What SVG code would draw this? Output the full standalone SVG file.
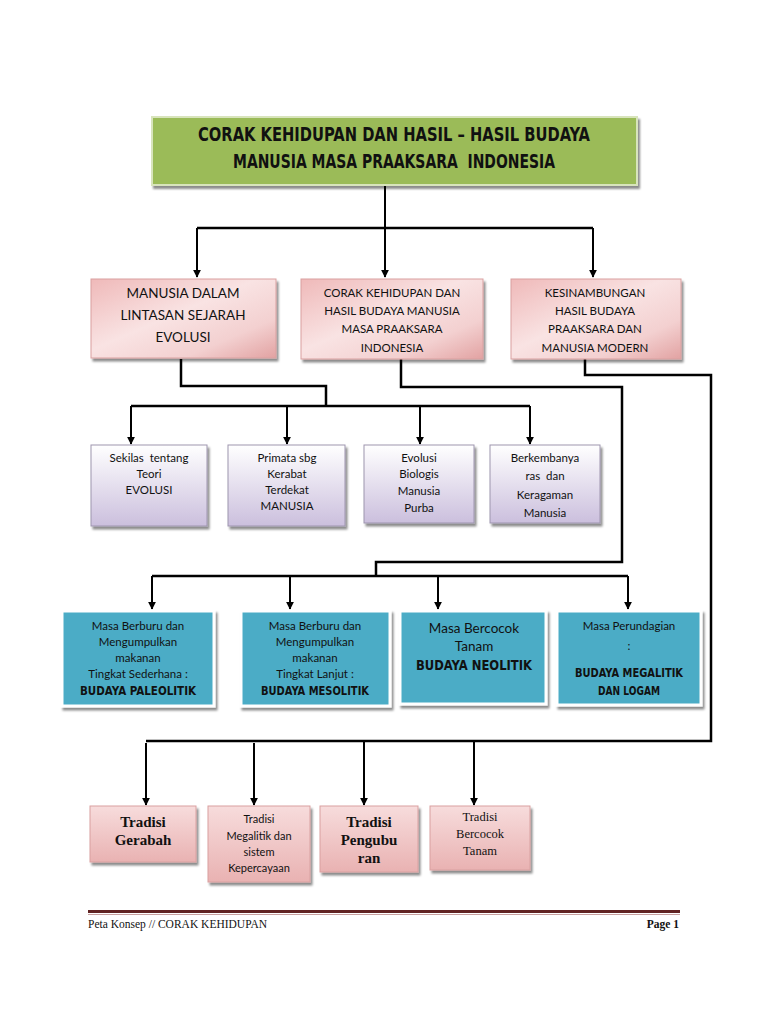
<svg xmlns="http://www.w3.org/2000/svg" width="768" height="1024" viewBox="0 0 768 1024">
<defs>
  <linearGradient id="pink" x1="0" y1="0" x2="1" y2="1">
    <stop offset="0" stop-color="#EFB9B9"/>
    <stop offset="0.45" stop-color="#F9E3E3"/>
    <stop offset="0.75" stop-color="#F3D0D0"/>
    <stop offset="1" stop-color="#E2A2A2"/>
  </linearGradient>
  <linearGradient id="pinkV" x1="0" y1="0" x2="0" y2="1">
    <stop offset="0" stop-color="#F7DCDC"/>
    <stop offset="1" stop-color="#E9B2B2"/>
  </linearGradient>
  <linearGradient id="purple" x1="0" y1="0" x2="0" y2="1">
    <stop offset="0" stop-color="#FFFFFF"/>
    <stop offset="1" stop-color="#CBBFDD"/>
  </linearGradient>
  <filter id="sh" x="-10%" y="-10%" width="130%" height="140%">
    <feDropShadow dx="2" dy="3" stdDeviation="1.2" flood-color="#000" flood-opacity="0.45"/>
  </filter>
  <marker id="arr" viewBox="0 0 10 10" refX="9" refY="5" markerWidth="8" markerHeight="8" markerUnits="userSpaceOnUse" orient="auto">
    <path d="M0,0 L10,5 L0,10 z" fill="#000"/>
  </marker>
  <style>
    text{white-space:pre}
    .title{font-family:"Liberation Sans Narrow","DejaVu Sans Condensed",sans-serif;font-weight:bold;font-size:19px;fill:#111;text-anchor:middle}
    .cond{font-family:"Liberation Sans Narrow","DejaVu Sans Condensed",sans-serif;font-weight:bold;fill:#111;text-anchor:middle}
    .sans{font-family:Lato,"Open Sans",sans-serif;fill:#111;text-anchor:middle}
    .serif{font-family:"Liberation Serif","DejaVu Serif",serif;fill:#111;text-anchor:middle}
    .pinkbox{fill:url(#pink);stroke:#D9A0A0;stroke-width:1;filter:url(#sh)}
    .pinkbox2{fill:url(#pinkV);stroke:#D9A0A0;stroke-width:1;filter:url(#sh)}
    .purbox{fill:url(#purple);stroke:#9E95AE;stroke-width:1;filter:url(#sh)}
    .teal{fill:#4BACC6;stroke:#FFFFFF;stroke-width:3;filter:url(#sh)}
    .conn{fill:none;stroke:#000;stroke-width:2.5}
    .drop{fill:none;stroke:#000;stroke-width:2;marker-end:url(#arr)}
  </style>
</defs>
<rect width="768" height="1024" fill="#FFFFFF"/>

<g id="connectors">
  <path class="drop" d="M385,186 V277"/>
  <path class="conn" d="M197,228 H593"/>
  <path class="drop" d="M197,228 V277"/>
  <path class="drop" d="M593,228 V277"/>

  <path class="conn" d="M181,359 V386 H326 V406"/>
  <path class="conn" d="M131,406 H530"/>
  <path class="drop" d="M131,406 V444"/>
  <path class="drop" d="M287,406 V444"/>
  <path class="drop" d="M420,406 V444"/>
  <path class="drop" d="M530,406 V444"/>

  <path class="conn" d="M401,359 V387 H622 V562 H376 V576"/>
  <path class="conn" d="M152,576 H628"/>
  <path class="drop" d="M152,576 V609"/>
  <path class="drop" d="M290,576 V609"/>
  <path class="drop" d="M438,576 V609"/>
  <path class="drop" d="M628,576 V609"/>

  <path class="conn" d="M585,359 V375 H711 V741 H146"/>
  <path class="drop" d="M146,743 V805"/>
  <path class="drop" d="M254,743 V805"/>
  <path class="drop" d="M364,742 V805"/>
  <path class="drop" d="M474,742 V805"/>
</g>

<g id="title">
  <rect x="152" y="117" width="485" height="68" fill="#9BBB59" stroke="#D8E4BC" stroke-width="2" filter="url(#sh)"/>
  <text class="title" x="394" y="141" textLength="392" lengthAdjust="spacingAndGlyphs">CORAK KEHIDUPAN DAN HASIL – HASIL BUDAYA</text>
  <text class="title" x="394" y="168" textLength="322" lengthAdjust="spacingAndGlyphs">MANUSIA MASA PRAAKSARA  INDONESIA</text>
</g>

<g id="n-manusia-dalam">
  <rect class="pinkbox" x="91" y="279" width="185" height="79"/>
  <text class="sans" x="183" y="298" font-size="13.5">MANUSIA DALAM</text>
  <text class="sans" x="183" y="320" font-size="13.5">LINTASAN SEJARAH</text>
  <text class="sans" x="183" y="342" font-size="13.5">EVOLUSI</text>
</g>
<g id="n-corak">
  <rect class="pinkbox" x="301" y="279" width="182" height="80"/>
  <text class="sans" x="392" y="297" font-size="11.5">CORAK KEHIDUPAN DAN</text>
  <text class="sans" x="392" y="315" font-size="11.5">HASIL BUDAYA MANUSIA</text>
  <text class="sans" x="392" y="333" font-size="11.5">MASA PRAAKSARA</text>
  <text class="sans" x="392" y="352" font-size="11.5">INDONESIA</text>
</g>
<g id="n-kesinambungan">
  <rect class="pinkbox" x="511" y="279" width="170" height="80"/>
  <text class="sans" x="595" y="297" font-size="11.5">KESINAMBUNGAN</text>
  <text class="sans" x="595" y="315" font-size="11.5">HASIL BUDAYA</text>
  <text class="sans" x="595" y="333" font-size="11.5">PRAAKSARA DAN</text>
  <text class="sans" x="595" y="352" font-size="11.5">MANUSIA MODERN</text>
</g>

<g id="n-sekilas">
  <rect class="purbox" x="91" y="445" width="116" height="81"/>
  <text class="sans" x="149" y="462" font-size="11.5">Sekilas  tentang</text>
  <text class="sans" x="149" y="478" font-size="11.5">Teori</text>
  <text class="sans" x="149" y="494" font-size="11.5">EVOLUSI</text>
</g>
<g id="n-primata">
  <rect class="purbox" x="228" y="445" width="117" height="81"/>
  <text class="sans" x="287" y="462" font-size="11.5">Primata sbg</text>
  <text class="sans" x="287" y="478" font-size="11.5">Kerabat</text>
  <text class="sans" x="287" y="494" font-size="11.5">Terdekat</text>
  <text class="sans" x="287" y="510" font-size="11.5">MANUSIA</text>
</g>
<g id="n-evolusi">
  <rect class="purbox" x="364" y="445" width="110" height="78"/>
  <text class="sans" x="419" y="462" font-size="11.5">Evolusi</text>
  <text class="sans" x="419" y="478" font-size="11.5">Biologis</text>
  <text class="sans" x="419" y="495" font-size="11.5">Manusia</text>
  <text class="sans" x="419" y="512" font-size="11.5">Purba</text>
</g>
<g id="n-berkembanya">
  <rect class="purbox" x="490" y="445" width="110" height="78"/>
  <text class="sans" x="545" y="462" font-size="11.5">Berkembanya</text>
  <text class="sans" x="545" y="480" font-size="11.5">ras  dan</text>
  <text class="sans" x="545" y="499" font-size="11.5">Keragaman</text>
  <text class="sans" x="545" y="517" font-size="11.5">Manusia</text>
</g>

<g id="n-paleolitik">
  <rect class="teal" x="62" y="611" width="152" height="95"/>
  <text class="sans" x="138" y="630" font-size="11.5">Masa Berburu dan</text>
  <text class="sans" x="138" y="646" font-size="11.5">Mengumpulkan</text>
  <text class="sans" x="138" y="662" font-size="11.5">makanan</text>
  <text class="sans" x="138" y="678" font-size="11.5">Tingkat Sederhana :</text>
  <text class="cond" x="138" y="695" font-size="13" textLength="116" lengthAdjust="spacingAndGlyphs">BUDAYA PALEOLITIK</text>
</g>
<g id="n-mesolitik">
  <rect class="teal" x="241" y="611" width="149" height="95"/>
  <text class="sans" x="315" y="630" font-size="11.5">Masa Berburu dan</text>
  <text class="sans" x="315" y="646" font-size="11.5">Mengumpulkan</text>
  <text class="sans" x="315" y="662" font-size="11.5">makanan</text>
  <text class="sans" x="315" y="678" font-size="11.5">Tingkat Lanjut :</text>
  <text class="cond" x="315" y="695" font-size="13" textLength="108" lengthAdjust="spacingAndGlyphs">BUDAYA MESOLITIK</text>
</g>
<g id="n-neolitik">
  <rect class="teal" x="400" y="611" width="146" height="93"/>
  <text class="sans" x="474" y="633" font-size="13.5">Masa Bercocok</text>
  <text class="sans" x="474" y="651" font-size="13.5">Tanam</text>
  <text class="cond" x="474" y="670" font-size="14" textLength="116" lengthAdjust="spacingAndGlyphs">BUDAYA NEOLITIK</text>
</g>
<g id="n-megalitik">
  <rect class="teal" x="557" y="611" width="144" height="94"/>
  <text class="sans" x="629" y="630" font-size="11.5">Masa Perundagian</text>
  <text class="sans" x="629" y="650" font-size="11.5">:</text>
  <text class="cond" x="629" y="677" font-size="12.5" textLength="108" lengthAdjust="spacingAndGlyphs">BUDAYA MEGALITIK</text>
  <text class="cond" x="629" y="695" font-size="12.5" textLength="62" lengthAdjust="spacingAndGlyphs">DAN LOGAM</text>
</g>

<g id="n-gerabah">
  <rect class="pinkbox2" x="90" y="806" width="106" height="56"/>
  <text class="serif" x="143" y="827" font-size="15" font-weight="bold">Tradisi</text>
  <text class="serif" x="143" y="845" font-size="15" font-weight="bold">Gerabah</text>
</g>
<g id="n-megalitik-tradisi">
  <rect class="pinkbox2" x="208" y="806" width="102" height="76"/>
  <text class="sans" x="259" y="823" font-size="11">Tradisi</text>
  <text class="sans" x="259" y="840" font-size="11">Megalitik dan</text>
  <text class="sans" x="259" y="856" font-size="11">sistem</text>
  <text class="sans" x="259" y="872" font-size="11">Kepercayaan</text>
</g>
<g id="n-penguburan">
  <rect class="pinkbox2" x="320" y="806" width="98" height="66"/>
  <text class="serif" x="369" y="827" font-size="15" font-weight="bold">Tradisi</text>
  <text class="serif" x="369" y="845" font-size="15" font-weight="bold">Pengubu</text>
  <text class="serif" x="369" y="863" font-size="15" font-weight="bold">ran</text>
</g>
<g id="n-bercocok">
  <rect class="pinkbox2" x="430" y="806" width="100" height="64"/>
  <text class="serif" x="480" y="821" font-size="12.5">Tradisi</text>
  <text class="serif" x="480" y="838" font-size="12.5">Bercocok</text>
  <text class="serif" x="480" y="855" font-size="12.5">Tanam</text>
</g>

<g id="footer">
  <rect x="88" y="910" width="592" height="3" fill="#622423"/>
  <rect x="88" y="914" width="592" height="1" fill="#C9A0A0"/>
  <text x="88" y="928" font-family="'Liberation Serif','DejaVu Serif',serif" font-size="11.5" fill="#111">Peta Konsep // CORAK KEHIDUPAN</text>
  <text x="679" y="928" font-family="'Liberation Serif','DejaVu Serif',serif" font-size="11.5" font-weight="bold" fill="#111" text-anchor="end">Page 1</text>
</g>
</svg>
